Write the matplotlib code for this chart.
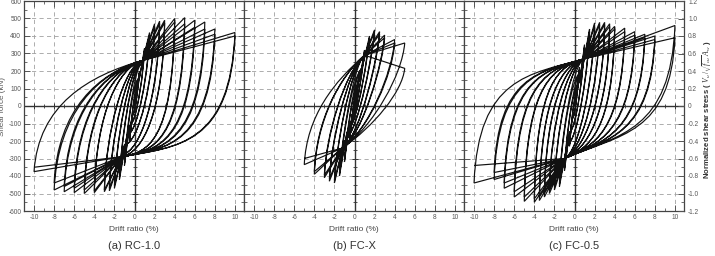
import matplotlib
matplotlib.use("Agg")
import matplotlib.pyplot as plt
from matplotlib.path import Path
from matplotlib.patches import PathPatch
from matplotlib.ticker import MultipleLocator, FuncFormatter

plt.rcParams['font.family'] = ['Liberation Sans', 'DejaVu Sans']
plt.rcParams['axes.unicode_minus'] = False
plt.rcParams['mathtext.fontset'] = 'custom'
plt.rcParams['mathtext.rm'] = 'Liberation Serif'
plt.rcParams['mathtext.it'] = 'Liberation Serif:italic'
plt.rcParams['mathtext.bf'] = 'Liberation Serif:bold:italic'

captions = ["(a) RC-1.0", "(b) FC-X", "(c) FC-0.5"]
x_ticks = [-10, -8, -6, -4, -2, 0, 2, 4, 6, 8, 10]
y_ticks = [-600, -500, -400, -300, -200, -100, 0, 100, 200, 300, 400, 500, 600]
stress_ticks = [-1.2, -1.0, -0.8, -0.6, -0.4, -0.2, 0, 0.2, 0.4, 0.6, 0.8, 1.0, 1.2]

# RC-1.0 : peak drift (%) and peak shear (kN), 1st and 2nd cycle
rc_drift = [0.5, 1.0, 1.5, 2.0, 2.5, 3.0, 4.0, 5.0, 6.0, 7.0, 8.0, 10.0]
rc_pos1 = [200, 330, 420, 470, 485, 490, 500, 505, 490, 480, 440, 420]
rc_neg1 = [-210, -340, -420, -470, -485, -490, -495, -500, -495, -490, -480, -375]
rc_pos2 = [190, 315, 405, 455, 470, 475, 480, 470, 450, 440, 410, 400]
rc_neg2 = [-200, -325, -405, -455, -470, -480, -485, -480, -470, -460, -440, -350]
rc_pinch = [(0.8, 260), (-1.3, -290)]

# FC-X
fx_drift = [0.5, 1.0, 1.5, 2.0, 2.5, 3.0, 4.0, 5.0]
fx_pos1 = [200, 320, 400, 435, 425, 405, 380, 360]
fx_neg1 = [-200, -320, -400, -440, -430, -410, -390, -335]
fx_pos2 = [190, 305, 385, 420, 410, 390, 360, 215]
fx_neg2 = [-190, -305, -385, -425, -415, -395, -375, -300]
fx_pinch = [(1.0, 290), (-1.2, -240)]

# FC-0.5
fc_drift = [0.5, 1.0, 1.5, 2.0, 2.5, 3.0, 3.5, 4.0, 5.0, 6.0, 7.0, 8.0, 10.0]
fc_pos1 = [220, 350, 440, 475, 478, 478, 470, 455, 445, 425, 410, 400, 460]
fc_neg1 = [-230, -370, -460, -480, -500, -520, -540, -550, -545, -520, -470, -420, -440]
fc_pos2 = [210, 335, 425, 460, 465, 465, 455, 440, 425, 405, 390, 380, 390]
fc_neg2 = [-220, -355, -445, -460, -480, -500, -520, -530, -520, -490, -440, -380, -340]
fc_pinch = [(1.0, 270), (-1.0, -300)]

# curve shape per specimen: fullness up/down, approach slope into pinch up/down
specimens = [
    (rc_drift, rc_pos1, rc_neg1, rc_pos2, rc_neg2, rc_pinch, (0.6, 0.9, 16, 10)),
    (fx_drift, fx_pos1, fx_neg1, fx_pos2, fx_neg2, fx_pinch, (0.45, 0.3, 50, 40)),
    (fc_drift, fc_pos1, fc_neg1, fc_pos2, fc_neg2, fc_pinch, (0.85, 0.8, 16, 25)),
]


def add_branch(verts, codes, start, end, pinch, full, slope, ctrl=0.5):
    x0, y0 = start
    x1, y1 = end
    k = min(1.0, abs(x1) / (2 * abs(pinch[0])))
    xp, yp = pinch[0] * k, pinch[1] * k
    f = full * min(1.0, abs(x0) / 4)
    dx = xp - x0
    c1 = (x0 + 0.04 * dx, y0 + f * (yp - y0))
    c2 = (xp - ctrl * dx, yp - slope * ctrl * dx)
    verts += [c1, c2, (xp, yp), (x1, y1)]
    codes += [Path.CURVE4] * 3 + [Path.LINETO]


def loop_path(drift, pos1, neg1, pos2, neg2, pinch, shape):
    fu, fd, su, sd = shape
    verts = [(0, 0), (drift[0], pos1[0])]
    codes = [Path.MOVETO, Path.LINETO]
    for i, d in enumerate(drift):
        add_branch(verts, codes, (d, pos1[i]), (-d, neg1[i]), pinch[1], fd, sd)
        add_branch(verts, codes, (-d, neg1[i]), (d, pos2[i]), pinch[0], fu, su)
        add_branch(verts, codes, (d, pos2[i]), (-d, neg2[i]), pinch[1], fd, sd)
        if i + 1 < len(drift):
            add_branch(verts, codes, (-d, neg2[i]), (drift[i + 1], pos1[i + 1]), pinch[0], fu, su)
    return Path(verts, codes)


fig = plt.figure(figsize=(7.15, 2.56), dpi=100)
W, H = 715, 256
grey = '#555555'

for n, spec in enumerate(specimens):
    ax = fig.add_axes([(24 + 220 * n) / W, 1 - 211 / H, 220 / W, 210 / H])
    ax.set_xlim(-11, 10.9)
    ax.set_ylim(-600, 600)
    ax.set_xticks(x_ticks)
    ax.set_yticks(y_ticks)
    ax.xaxis.set_minor_locator(MultipleLocator(1))
    ax.yaxis.set_minor_locator(MultipleLocator(50))
    ax.tick_params(which='both', direction='in', top=True, right=True,
                   colors=grey, labelsize=4.7, pad=2)
    ax.tick_params(which='major', length=4, width=0.7)
    ax.tick_params(which='minor', length=2.5, width=0.6)
    ax.grid(True, which='major', color='#a0a0a0', linestyle=(0, (5, 4)), linewidth=0.6)
    for sp in ax.spines.values():
        sp.set_color('#444444')
        sp.set_linewidth(0.9)
    if n > 0:
        ax.tick_params(labelleft=False)

    ax.axhline(0, color='#333333', lw=1.0, zorder=2)
    ax.axvline(0, color='#333333', lw=1.0, zorder=2)
    ax.plot(x_ticks, [0] * len(x_ticks), ls='none', marker='|', ms=5, mew=0.7, color='#333333')
    ax.plot(range(-11, 11, 2), [0] * 11, ls='none', marker='|', ms=3, mew=0.6, color='#333333')
    ax.plot([0] * len(y_ticks), y_ticks, ls='none', marker='_', ms=5, mew=0.7, color='#333333')
    ax.plot([0] * 12, range(-550, 600, 100), ls='none', marker='_', ms=3, mew=0.6, color='#333333')

    ax.add_patch(PathPatch(loop_path(*spec), fill=False, edgecolor='#111111', lw=0.85, zorder=3))

    ax.set_xlabel('Drift ratio (%)', fontsize=6, color='#444444', labelpad=4)
    fig.text((24 + 220 * n + 110) / W, 1 - 246 / H, captions[n], ha='center', va='center',
             fontsize=8, color='#333333')

    if n == 2:
        ax2 = ax.twinx()
        ax2.set_ylim(-1.2, 1.2)
        ax2.set_yticks(stress_ticks)
        ax2.yaxis.set_minor_locator(MultipleLocator(0.1))
        ax2.yaxis.set_major_formatter(FuncFormatter(lambda v, p: '0' if abs(v) < 1e-9 else '%.1f' % v))
        ax2.tick_params(which='both', direction='in', colors=grey, labelsize=4.7, pad=3)
        ax2.tick_params(which='major', length=4, width=0.7)
        ax2.tick_params(which='minor', length=2.5, width=0.6)
        for sp in ax2.spines.values():
            sp.set_visible(False)

fig.text(3 / W, 1 - 106 / H, 'Shear force (kN)', rotation=90, ha='center', va='center',
         fontsize=5.8, color=grey)
fig.text(707.5 / W, 1 - 110 / H,
         r'Normalized shear stress ( $V_u\,/\sqrt{f_{cu}}\,A_w$ )',
         rotation=90, ha='center', va='center', fontsize=5.6, color='#333333', fontweight='bold')

fig.savefig('out.png', dpi=100)
